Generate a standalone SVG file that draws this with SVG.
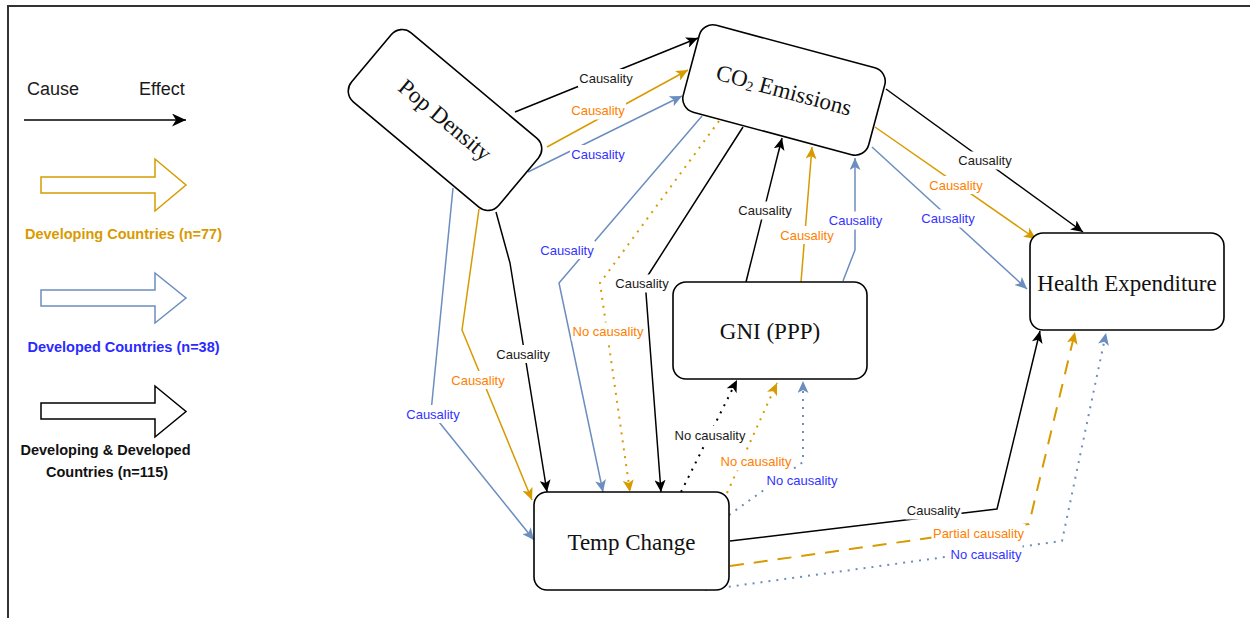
<svg xmlns="http://www.w3.org/2000/svg" width="1250" height="618" viewBox="0 0 1250 618">
<style>
.frame{fill:none;stroke:#333;stroke-width:2}
.node rect{fill:#fff;stroke:#000;stroke-width:1.6}
.ntxt{font-family:"Liberation Serif","Times New Roman",serif;font-size:23px;fill:#111;text-anchor:middle;dominant-baseline:central}
.e{fill:none;stroke-width:1.5;stroke-linejoin:round}
.k{stroke:#000}.o{stroke:#d79b00}.b{stroke:#6c8ebf}
.dot{stroke-width:2;stroke-dasharray:2 6}
.dash{stroke-width:2;stroke-dasharray:14 10}
.bg{fill:#fff}
.lbl{font-family:"Liberation Sans",Arial,sans-serif;font-size:13px;text-anchor:middle;dominant-baseline:central}
.lk{fill:#1a1a1a}.lo{fill:#ff8000}.lb{fill:#3333ff}
.leg{font-family:"Liberation Sans",Arial,sans-serif}
.blk{stroke-width:1.5;fill:#fff}
</style>
<defs>
<marker id="ak" markerUnits="userSpaceOnUse" viewBox="0 0 12 11" refX="12" refY="5.5" markerWidth="12" markerHeight="11" orient="auto"><path d="M0,0 L12,5.5 L0,11 L3,5.5 Z" fill="#000"/></marker>
<marker id="ao" markerUnits="userSpaceOnUse" viewBox="0 0 12 11" refX="12" refY="5.5" markerWidth="12" markerHeight="11" orient="auto"><path d="M0,0 L12,5.5 L0,11 L3,5.5 Z" fill="#d79b00"/></marker>
<marker id="ab" markerUnits="userSpaceOnUse" viewBox="0 0 12 11" refX="12" refY="5.5" markerWidth="12" markerHeight="11" orient="auto"><path d="M0,0 L12,5.5 L0,11 L3,5.5 Z" fill="#6c8ebf"/></marker>
<marker id="aleg" markerUnits="userSpaceOnUse" viewBox="0 0 14 13" refX="14" refY="6.5" markerWidth="14" markerHeight="13" orient="auto"><path d="M0,0 L14,6.5 L0,13 L4,6.5 Z" fill="#000"/></marker>
</defs>
<rect width="1250" height="618" fill="#fff"/>
<path class="frame" d="M8,620 L8,6 L1252,6"/>

<g id="legend">
<text class="leg" x="27" y="95" font-size="18" fill="#1a1a1a">Cause</text>
<text class="leg" x="139" y="95" font-size="18" fill="#1a1a1a">Effect</text>
<line x1="24" y1="120" x2="186" y2="120" stroke="#000" stroke-width="1.6" marker-end="url(#aleg)"/>
<polygon class="blk" stroke="#d79b00" points="41,177 155,177 155,159 186,185 155,211 155,193 41,193"/>
<text class="leg" x="123.5" y="239" font-size="14.5" font-weight="bold" fill="#d99a00" text-anchor="middle">Developing Countries (n=77)</text>
<polygon class="blk" stroke="#6c8ebf" points="41,290 155,290 155,273 186,298 155,323 155,306 41,306"/>
<text class="leg" x="123.5" y="352" font-size="14.5" font-weight="bold" fill="#2a2aff" text-anchor="middle">Developed Countries (n=38)</text>
<polygon class="blk" stroke="#000" points="41,403 155,403 155,386 186,411.5 155,437 155,419 41,419"/>
<text class="leg" x="105.5" y="455" font-size="14.5" font-weight="bold" fill="#111" text-anchor="middle">Developing &amp; Developed</text>
<text class="leg" x="107" y="477" font-size="14.5" font-weight="bold" fill="#111" text-anchor="middle">Countries (n=115)</text>
</g>

<g id="connectors">
<path class="e k" d="M515,112 L698,38" marker-end="url(#ak)"/>
<path class="e o" d="M547,147 L688,70" marker-end="url(#ao)"/>
<path class="e b" d="M528,172 L682,96" marker-end="url(#ab)"/>
<path class="e k" d="M886,89 L1083,232" marker-end="url(#ak)"/>
<path class="e o" d="M875,127 L1036,239" marker-end="url(#ao)"/>
<path class="e b" d="M872,147 L1027,289" marker-end="url(#ab)"/>
<path class="e b" d="M453,188 L431,412 L534,540" marker-end="url(#ab)"/>
<path class="e o" d="M479,209 L462,330 L532,500" marker-end="url(#ao)"/>
<path class="e k" d="M496,212 L510,263 L547,492" marker-end="url(#ak)"/>
<path class="e b" d="M702,116 L559,283 L603,492" marker-end="url(#ab)"/>
<path class="e o dot" d="M719,121 L600,283 L630,492" marker-end="url(#ao)"/>
<path class="e k" d="M743,127 L645,280 L661,492" marker-end="url(#ak)"/>
<path class="e k" d="M746,282 L782,138" marker-end="url(#ak)"/>
<path class="e o" d="M801,282 L812,147" marker-end="url(#ao)"/>
<path class="e b" d="M843,281 L855,250 L855,158" marker-end="url(#ab)"/>
<path class="e k dot" d="M681,492 L737,380" marker-end="url(#ak)"/>
<path class="e o dot" d="M727,493 L777,383" marker-end="url(#ao)"/>
<path class="e b dot" d="M729,515 L803,462 L803,381" marker-end="url(#ab)"/>
<path class="e k" d="M730,541 L997,509 L1040,331" marker-end="url(#ak)"/>
<path class="e o dash" d="M730,566 L1029,524 L1075,332" marker-end="url(#ao)"/>
<path class="e b dot" d="M705,590 L1062,541 L1106,333" marker-end="url(#ab)"/>

<rect class="bg" x="578" y="69" width="56" height="18"/><text class="lbl lk" x="606" y="78">Causality</text>
<rect class="bg" x="570" y="101.5" width="56" height="18"/><text class="lbl lo" x="598" y="110.5">Causality</text>
<rect class="bg" x="570" y="145" width="56" height="18"/><text class="lbl lb" x="598" y="154">Causality</text>
<rect class="bg" x="957" y="151.5" width="56" height="18"/><text class="lbl lk" x="985" y="160.5">Causality</text>
<rect class="bg" x="928" y="176" width="56" height="18"/><text class="lbl lo" x="956" y="185">Causality</text>
<rect class="bg" x="920" y="209.5" width="56" height="18"/><text class="lbl lb" x="948" y="218.5">Causality</text>
<rect class="bg" x="405" y="405" width="56" height="18"/><text class="lbl lb" x="433" y="414">Causality</text>
<rect class="bg" x="450" y="371" width="56" height="18"/><text class="lbl lo" x="478" y="380">Causality</text>
<rect class="bg" x="495" y="345" width="56" height="18"/><text class="lbl lk" x="523" y="354">Causality</text>
<rect class="bg" x="539" y="241" width="56" height="18"/><text class="lbl lb" x="567" y="250">Causality</text>
<rect class="bg" x="571.5" y="322.5" width="73" height="18"/><text class="lbl lo" x="608" y="331.5">No causality</text>
<rect class="bg" x="614" y="274.5" width="56" height="18"/><text class="lbl lk" x="642" y="283.5">Causality</text>
<rect class="bg" x="737" y="201.5" width="56" height="18"/><text class="lbl lk" x="765" y="210.5">Causality</text>
<rect class="bg" x="779" y="226" width="56" height="18"/><text class="lbl lo" x="807" y="235">Causality</text>
<rect class="bg" x="827.5" y="211.5" width="56" height="18"/><text class="lbl lb" x="855.5" y="220.5">Causality</text>
<rect class="bg" x="673.5" y="426" width="73" height="18"/><text class="lbl lk" x="710" y="435">No causality</text>
<rect class="bg" x="719.5" y="452.5" width="73" height="18"/><text class="lbl lo" x="756" y="461.5">No causality</text>
<rect class="bg" x="765.5" y="471" width="73" height="18"/><text class="lbl lb" x="802" y="480">No causality</text>
<rect class="bg" x="905.5" y="501.5" width="56" height="18"/><text class="lbl lk" x="933.5" y="510.5">Causality</text>
<rect class="bg" x="931.5" y="524" width="94" height="18"/><text class="lbl lo" x="978.5" y="533">Partial causality</text>
<rect class="bg" x="949.5" y="545" width="73" height="18"/><text class="lbl lb" x="986" y="554">No causality</text>
</g>

<g id="pop-density" class="node" transform="translate(445,120) rotate(40)">
<rect x="-96" y="-45" width="192" height="90" rx="14"/>
<text class="ntxt" x="0" y="0">Pop Density</text>
</g>
<g id="co2-emissions" class="node" transform="translate(784,90) rotate(15)">
<rect x="-96" y="-45" width="192" height="90" rx="14"/>
<text class="ntxt" x="0" y="0">CO<tspan font-size="14" dy="5">2</tspan><tspan dy="-5"> Emissions</tspan></text>
</g>
<g id="health-expenditure" class="node">
<rect x="1030" y="233" width="194" height="97" rx="13"/>
<text class="ntxt" x="1127" y="283">Health Expenditure</text>
</g>
<g id="gni-ppp" class="node">
<rect x="673" y="282" width="194" height="97" rx="13"/>
<text class="ntxt" x="770" y="331">GNI (PPP)</text>
</g>
<g id="temp-change" class="node">
<rect x="534" y="492" width="195" height="98" rx="13"/>
<text class="ntxt" x="631.5" y="542">Temp Change</text>
</g>
</svg>
